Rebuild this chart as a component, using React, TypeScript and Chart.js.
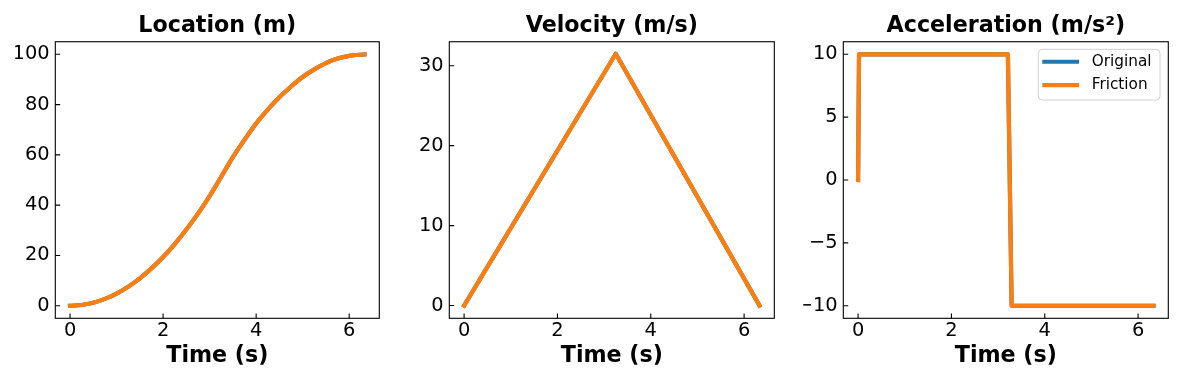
import React, { useEffect, useRef } from 'react';
import { Chart, registerables } from 'chart.js';

Chart.register(...registerables);

// ---- data ----
const locTime = [0, 0.25, 0.5, 0.75, 1.0, 1.25, 1.5, 1.75, 2.0, 2.25, 2.5, 2.75, 3.0, 3.25, 3.5, 3.75, 4.0, 4.25, 4.5, 4.75, 5.0, 5.25, 5.5, 5.75, 6.0, 6.33];
const locValues = [0, 0.3, 1.21, 2.73, 4.85, 7.57, 10.9, 14.84, 19.38, 24.53, 30.29, 36.65, 43.61, 51.3, 59.1, 66.0, 72.5, 78.0, 82.9, 87.2, 91.0, 94.0, 96.5, 98.3, 99.4, 100];
const velTime = [0, 3.25, 6.33];
const velValues = [0, 31.5, 0];
const accTime = [0, 0.02, 3.21, 3.29, 6.33];
const accValues = [0, 10, 10, -10, -10];

const xTicks = [0, 2, 4, 6];
const locTicks = [0, 20, 40, 60, 80, 100];
const velTicks = [0, 10, 20, 30];
const accTicks = [-10, -5, 0, 5, 10];

const seriesNames = ['Original', 'Friction'];
const seriesColors = ['#1f77b4', '#ff7f0e'];
const titles = ['Location (m)', 'Velocity (m/s)', 'Acceleration (m/s\u00B2)'];
const xLabel = 'Time (s)';

const FONT = "'DejaVu Sans', sans-serif";

const fmt = (v: number) => (v < 0 ? '\u2212' + Math.abs(v) : String(v));

const mplAxes = {
  id: 'mplAxes',
  afterDatasetsDraw(chart: any, _args: any, opts: any) {
    const { ctx, chartArea, scales } = chart;
    const { left, right, top, bottom } = chartArea;
    ctx.save();
    ctx.strokeStyle = '#000';
    ctx.lineWidth = 1.1;
    ctx.strokeRect(left, top, right - left, bottom - top);
    const tl = 4.9;
    ctx.beginPath();
    scales.x.ticks.forEach((t: any) => {
      const px = scales.x.getPixelForValue(t.value);
      ctx.moveTo(px, bottom);
      ctx.lineTo(px, bottom - tl);
    });
    scales.y.ticks.forEach((t: any) => {
      const py = scales.y.getPixelForValue(t.value);
      ctx.moveTo(left, py);
      ctx.lineTo(left + tl, py);
    });
    ctx.stroke();

    if (opts && opts.legend) {
      const w = 121.7;
      const h = 50.7;
      const bx = right - 8.3 - w;
      const by = top + 7.6;
      const r = 4;
      ctx.beginPath();
      ctx.moveTo(bx + r, by);
      ctx.lineTo(bx + w - r, by);
      ctx.quadraticCurveTo(bx + w, by, bx + w, by + r);
      ctx.lineTo(bx + w, by + h - r);
      ctx.quadraticCurveTo(bx + w, by + h, bx + w - r, by + h);
      ctx.lineTo(bx + r, by + h);
      ctx.quadraticCurveTo(bx, by + h, bx, by + h - r);
      ctx.lineTo(bx, by + r);
      ctx.quadraticCurveTo(bx, by, bx + r, by);
      ctx.closePath();
      ctx.fillStyle = 'rgba(255,255,255,0.8)';
      ctx.fill();
      ctx.strokeStyle = '#d0d0d0';
      ctx.lineWidth = 1;
      ctx.stroke();
      const rows = [12.4, 35.7];
      seriesNames.forEach((name, i) => {
        const y = by + rows[i];
        ctx.beginPath();
        ctx.strokeStyle = seriesColors[i];
        ctx.lineWidth = 4.2;
        ctx.lineCap = 'butt';
        ctx.moveTo(bx + 4, y);
        ctx.lineTo(bx + 40.7, y);
        ctx.stroke();
        ctx.fillStyle = '#000';
        ctx.font = `15.3px ${FONT}`;
        ctx.textBaseline = 'middle';
        ctx.textAlign = 'left';
        ctx.fillText(name, bx + 53.4, y);
      });
    }
    ctx.restore();
  },
};

type Panel = {
  x: number;
  w: number;
  padLeft: number;
  padRight: number;
  time: number[];
  values: number[];
  yTicks: number[];
  yMin: number;
  yMax: number;
  title: string;
  smooth: boolean;
  legend: boolean;
};

const panels: Panel[] = [
  { x: 0, w: 400, padLeft: 15.3, padRight: 20.7, time: locTime, values: locValues, yTicks: locTicks, yMin: -5, yMax: 105, title: titles[0], smooth: true, legend: false },
  { x: 400, w: 390, padLeft: 9.3, padRight: 15.7, time: velTime, values: velValues, yTicks: velTicks, yMin: -1.6, yMax: 33.0, title: titles[1], smooth: false, legend: false },
  { x: 790, w: 388, padLeft: 13.3, padRight: 9.7, time: accTime, values: accValues, yTicks: accTicks, yMin: -11, yMax: 11, title: titles[2], smooth: false, legend: true },
];

function makeConfig(p: Panel): any {
  const pts = p.time.map((t, i) => ({ x: t, y: p.values[i] }));
  const ds = (i: number, order: number) => ({
    label: seriesNames[i],
    data: pts,
    borderColor: seriesColors[i],
    backgroundColor: seriesColors[i],
    borderWidth: 4.2,
    pointRadius: 0,
    fill: false,
    order,
    cubicInterpolationMode: p.smooth ? 'monotone' : 'default',
    tension: 0,
    borderCapStyle: 'square',
    borderJoinStyle: 'round',
  });
  const tickFont = { family: FONT, size: 19.4, lineHeight: 1.2 };
  const boldFont = { family: FONT, size: 22.2, weight: 'bold', lineHeight: 1.2 };
  return {
    type: 'line',
    data: { datasets: [ds(0, 1), ds(1, 0)] },
    options: {
      animation: false,
      responsive: false,
      maintainAspectRatio: false,
      layout: { padding: { left: p.padLeft, right: p.padRight, top: 0, bottom: 0 } },
      plugins: {
        legend: { display: false },
        tooltip: { enabled: false },
        title: {
          display: true,
          text: p.title,
          fullSize: false,
          color: '#000',
          font: boldFont,
          padding: { top: 12.8, bottom: 2.3 },
        },
        mplAxes: { legend: p.legend },
      },
      scales: {
        x: {
          type: 'linear',
          min: -0.317,
          max: 6.647,
          afterBuildTicks: (s: any) => {
            s.ticks = xTicks.map((v) => ({ value: v }));
          },
          afterFit: (s: any) => {
            s.height = 59.7;
          },
          grid: { display: false, drawTicks: false },
          border: { display: false },
          ticks: { font: tickFont, color: '#000', padding: 1, maxRotation: 0, callback: (v: number) => fmt(v) },
          title: { display: true, text: xLabel, color: '#000', font: boldFont, padding: { top: 0, bottom: 8.8 } },
        },
        y: {
          type: 'linear',
          min: p.yMin,
          max: p.yMax,
          afterBuildTicks: (s: any) => {
            s.ticks = p.yTicks.map((v) => ({ value: v }));
          },
          afterFit: (s: any) => {
            s.width = 40;
          },
          grid: { display: false, drawTicks: false },
          border: { display: false },
          ticks: { font: tickFont, color: '#000', padding: 5.7, callback: (v: number) => fmt(v) },
        },
      },
    },
    plugins: [mplAxes],
  };
}

export default function App() {
  const r0 = useRef<HTMLCanvasElement>(null);
  const r1 = useRef<HTMLCanvasElement>(null);
  const r2 = useRef<HTMLCanvasElement>(null);
  const refs = [r0, r1, r2];

  useEffect(() => {
    const charts = panels.map((p, i) => new Chart(refs[i].current as HTMLCanvasElement, makeConfig(p)));
    return () => charts.forEach((c) => c.destroy());
  }, []);

  return (
    <div style={{ position: 'absolute', left: 0, top: 0, width: 1178, height: 378, background: '#fff' }}>
      {panels.map((p, i) => (
        <canvas
          key={i}
          ref={refs[i]}
          width={p.w}
          height={378}
          style={{ position: 'absolute', left: p.x, top: 0, width: p.w, height: 378 }}
        />
      ))}
    </div>
  );
}
